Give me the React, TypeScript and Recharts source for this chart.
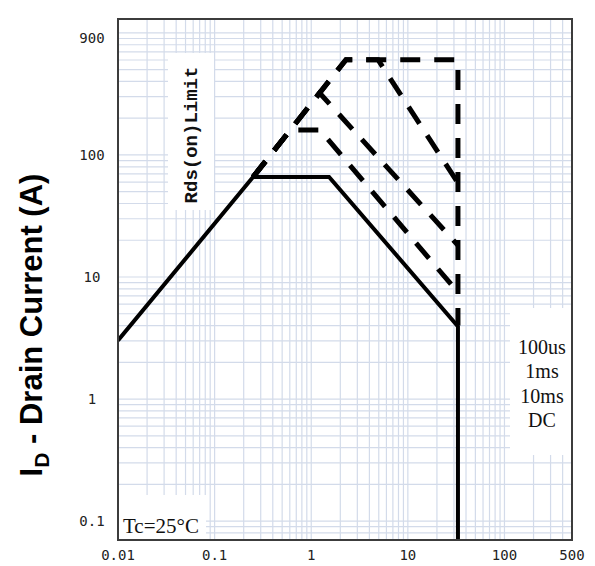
import React from 'react';
import { LineChart, Line, XAxis, YAxis, ReferenceLine } from 'recharts';

// Axis ticks
const xTicks = [0.01, 0.1, 1, 10, 100, 500];
const yTicks = [0.1, 1, 10, 100, 900];

// DC (solid)
const dcV = [0.01, 0.25, 1.53, 33, 33];
const dcI = [3.02, 65.9, 65.9, 3.94, 0.07];
// 100us (outer dashed envelope)
const us100V = [0.25, 2.29, 33, 33];
const us100I = [65.9, 604, 604, 4.0];
// 1ms
const ms1V = [0.25, 2.29, 4.91, 33];
const ms1I = [65.9, 604, 604, 59];
// 10ms
const ms10V = [0.25, 1.22, 33];
const ms10I = [65.9, 322, 18.2];
// inner pulse curve
const ms100V = [0.25, 0.607, 1.23, 33];
const ms100I = [65.9, 160, 160, 7.48];

const legendLabels = ['100us', '1ms', '10ms', 'DC'];

const toPts = (v: number[], i: number[]) => v.map((x, k) => ({ v: x, i: i[k] }));

const decadeMinors = (lo: number, hi: number) => {
  const out: number[] = [];
  for (let d = -3; d <= 4; d++) {
    for (let k = 1; k <= 9; k++) {
      const val = k * Math.pow(10, d);
      if (val > lo * 1.0001 && val < hi * 0.9999) out.push(val);
    }
  }
  return out;
};
const gridX = decadeMinors(0.01, 500);
const gridY = decadeMinors(0.07, 1300);

const monoFont = '"DejaVu Sans Mono", monospace';

const XTick = (props: any) => {
  const { x, y, payload } = props;
  return (
    <text x={x} y={y} dy={12} textAnchor="middle" fontFamily={monoFont} fontSize={14} fill="#222">
      {String(payload.value)}
    </text>
  );
};

const YTick = (props: any) => {
  const { y, payload } = props;
  return (
    <text x={92} y={y} dy={5} textAnchor="middle" fontFamily={monoFont} fontSize={14} fill="#222">
      {String(payload.value)}
    </text>
  );
};

const gridColor = '#d3dbea';

export default function App() {
  const dashed = { stroke: '#000', strokeWidth: 5, strokeDasharray: '20 14', dot: false, isAnimationActive: false, strokeLinecap: 'butt' as const };
  return (
    <div style={{ position: 'absolute', left: 0, top: 0, width: 595, height: 566, background: '#fff' }}>
      <LineChart width={595} height={566} margin={{ top: 19, right: 23, bottom: 0, left: 0 }}>
        <XAxis
          type="number"
          dataKey="v"
          scale="log"
          domain={[0.01, 500]}
          ticks={xTicks}
          allowDataOverflow
          height={26}
          axisLine={false}
          tickLine={false}
          tick={<XTick />}
          interval={0}
        />
        <YAxis
          type="number"
          dataKey="i"
          scale="log"
          domain={[0.07, 1300]}
          ticks={yTicks}
          allowDataOverflow
          width={118}
          axisLine={false}
          tickLine={false}
          tick={<YTick />}
          interval={0}
        />
        {gridX.map((v) => (
          <ReferenceLine key={'gx' + v} x={v} stroke={gridColor} strokeWidth={1.2} />
        ))}
        {gridY.map((v) => (
          <ReferenceLine key={'gy' + v} y={v} stroke={gridColor} strokeWidth={1.2} />
        ))}
        <Line data={toPts(ms100V, ms100I)} dataKey="i" name="pulse" {...dashed} />
        <Line data={toPts(ms10V, ms10I)} dataKey="i" name="10ms" {...dashed} />
        <Line data={toPts(ms1V, ms1I)} dataKey="i" name="1ms" {...dashed} />
        <Line data={toPts(us100V, us100I)} dataKey="i" name="100us" {...dashed} />
        <Line data={toPts(dcV, dcI)} dataKey="i" name="DC" stroke="#000" strokeWidth={4} dot={false} isAnimationActive={false} />
      </LineChart>
      <svg width={595} height={566} style={{ position: 'absolute', left: 0, top: 0, pointerEvents: 'none' }}>
        <rect x={168} y={53} width={46} height={157} fill="#fff" />
        <text
          transform="translate(197,135) rotate(-90)"
          textAnchor="middle"
          fontFamily='"Liberation Mono", monospace'
          fontSize={19}
          fontWeight="bold"
          fill="#111"
        >
          Rds(on)Limit
        </text>
        <rect x={119} y={495} width={87} height={44} fill="#fff" />
        <text x={123} y={533} fontFamily='"Liberation Serif", serif' fontSize={21} fill="#111">
          Tc=25°C
        </text>
        <rect x={510} y={308} width={61} height={147} fill="#fff" />
        {legendLabels.map((t, k) => (
          <text key={t} x={542} y={354 + k * 24.3} textAnchor="middle" fontFamily='"Liberation Serif", serif' fontSize={20} fill="#111">
            {t}
          </text>
        ))}
        <rect x={118} y={19} width={454} height={521} fill="none" stroke="#3c3c3c" strokeWidth={2} />
        <text
          transform="translate(42,325) rotate(-90)"
          textAnchor="middle"
          fontFamily='"Liberation Sans", Arial, sans-serif'
          fontWeight="bold"
          fontSize={31}
          fill="#000"
        >
          I<tspan dy={7} fontSize={21}>D</tspan>
          <tspan dy={-7}> - Drain Current (A)</tspan>
        </text>
      </svg>
    </div>
  );
}
